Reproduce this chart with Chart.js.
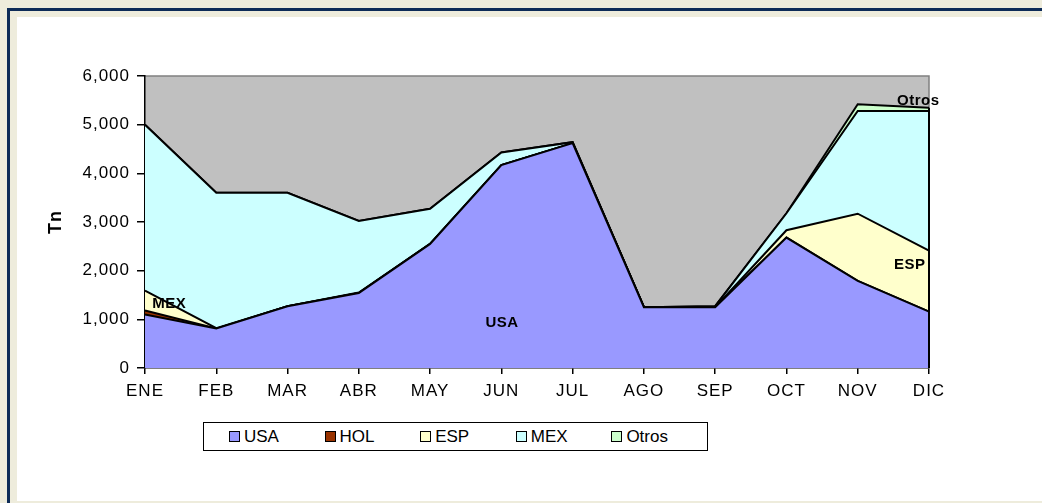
<!DOCTYPE html>
<html>
<head>
<meta charset="utf-8">
<script src="https://cdn.jsdelivr.net/npm/chart.js@4.4.1/dist/chart.umd.min.js"></script>
<style>
  body { margin: 0; background: #eeecdc; width: 1042px; height: 503px; overflow: hidden; position: relative; font-family: "Liberation Sans", Arial, sans-serif; }
  #frame { position: absolute; left: 7px; top: 8px; width: 1035px; height: 495px; border-top: 3px solid #0d2b57; border-left: 3px solid #0d2b57; box-sizing: border-box; }
  #paper { position: absolute; left: 17px; top: 17px; width: 1025px; height: 484px; background: #fff; }
  #chartCanvas { position: absolute; left: 0; top: 0; }
  #legend { position: absolute; left: 203px; top: 422px; width: 505px; height: 29px; border: 1px solid #000; box-sizing: border-box; background: #fff; padding-left: 25px; display: flex; align-items: center; }
  .item { width: 100px; display: flex; align-items: center; font-size: 17px; color: #000; }
  .box { width: 9px; height: 9px; border: 1px solid #000; margin-right: 4px; }
</style>
</head>
<body>
<div id="frame"></div>
<div id="paper"></div>
<canvas id="chartCanvas" width="1042" height="503"></canvas>
<div id="legend"></div>
<script>
var months = ['ENE', 'FEB', 'MAR', 'ABR', 'MAY', 'JUN', 'JUL', 'AGO', 'SEP', 'OCT', 'NOV', 'DIC'];
var usa   = [1100, 810, 1270, 1540, 2550, 4170, 4620, 1250, 1250, 2680, 1790, 1160];
var hol   = [80, 0, 0, 0, 0, 0, 0, 0, 0, 0, 0, 0];
var esp   = [410, 10, 0, 10, 0, 0, 0, 0, 0, 150, 1380, 1250];
var mex   = [3410, 2780, 2330, 1470, 720, 260, 20, 0, 20, 350, 2110, 2870];
var otros = [0, 0, 0, 0, 0, 0, 0, 0, 0, 0, 140, 70];
var yTicks = [0, 1000, 2000, 3000, 4000, 5000, 6000];

var names = ['USA', 'HOL', 'ESP', 'MEX', 'Otros'];
var colors = ['#9999ff', '#993300', '#ffffcc', '#ccffff', '#ccffcc'];

// text labels sitting in the areas: [text, month index, value]
var areaLabels = [
    ['MEX', 0.34, 1320],
    ['USA', 5.01, 930],
    ['ESP', 10.73, 2120],
    ['Otros', 10.85, 5490]
];

var series = [usa, hol, esp, mex, otros];
var fontFamily = '"Liberation Sans", Arial, sans-serif';

var plotBackground = {
    id: 'plotBackground',
    beforeDraw: function(chart) {
        var ctx = chart.ctx, a = chart.chartArea;
        ctx.letterSpacing = '1px';
        ctx.save();
        ctx.fillStyle = '#c0c0c0';
        ctx.fillRect(a.left, a.top, a.right - a.left, a.bottom - a.top);
        ctx.strokeStyle = '#808080';
        ctx.lineWidth = 1.5;
        ctx.beginPath();
        ctx.moveTo(a.left, a.top);
        ctx.lineTo(a.right, a.top);
        ctx.lineTo(a.right, a.bottom);
        ctx.stroke();
        ctx.restore();
    },
    afterDatasetsDraw: function(chart) {
        var ctx = chart.ctx, x = chart.scales.x, y = chart.scales.y;
        ctx.save();
        // right edge of the stack
        var last = months.length - 1;
        var top = 0;
        series.forEach(function(s) { top += s[last]; });
        ctx.strokeStyle = '#000';
        ctx.lineWidth = 2;
        ctx.beginPath();
        ctx.moveTo(x.getPixelForValue(last), y.getPixelForValue(top));
        ctx.lineTo(x.getPixelForValue(last), y.getPixelForValue(0));
        ctx.stroke();
        ctx.letterSpacing = '0.5px';
        ctx.font = 'bold 15px ' + fontFamily;
        ctx.fillStyle = '#000';
        ctx.textAlign = 'center';
        ctx.textBaseline = 'middle';
        areaLabels.forEach(function(l) {
            ctx.fillText(l[0], x.getPixelForValue(l[1]), y.getPixelForValue(l[2]));
        });
        ctx.restore();
    }
};

var datasets = names.map(function(n, i) {
    return {
        label: n,
        data: series[i],
        backgroundColor: colors[i],
        borderColor: '#000',
        borderWidth: 2,
        fill: i === 0 ? 'origin' : '-1',
        pointRadius: 0,
        tension: 0
    };
});

var ctx = document.getElementById('chartCanvas').getContext('2d');
var chart = new Chart(ctx, {
    type: 'line',
    data: { labels: months, datasets: datasets },
    plugins: [plotBackground],
    options: {
        responsive: false,
        animation: false,
        devicePixelRatio: 1,
        layout: { padding: { left: 45, top: 76, right: 113, bottom: 105 } },
        plugins: { legend: { display: false }, tooltip: { enabled: false } },
        scales: {
            x: {
                z: 1,
                offset: false,
                grid: { drawOnChartArea: false, tickLength: 6, color: '#000', lineWidth: 1.5 },
                border: { color: '#000', width: 1.5 },
                ticks: { color: '#000', font: { family: fontFamily, size: 17 }, padding: 7, maxRotation: 0 },
                afterFit: function(scale) { scale.height = 30; }
            },
            y: {
                z: 1,
                stacked: true,
                min: 0,
                max: 6000,
                afterBuildTicks: function(scale) { scale.ticks = yTicks.map(function(v) { return { value: v }; }); },
                grid: { drawOnChartArea: false, tickLength: 8, color: '#000', lineWidth: 1.5 },
                border: { color: '#000', width: 1.5 },
                ticks: {
                    color: '#000',
                    font: { family: fontFamily, size: 17 },
                    padding: 7,
                    callback: function(v) { return v.toLocaleString('en-US'); }
                },
                title: { display: true, text: 'Tn', color: '#000', font: { family: fontFamily, size: 18, weight: 'bold' }, padding: { top: 0, bottom: 0 } },
                afterFit: function(scale) { scale.width = 100; }
            }
        }
    }
});

var legend = document.getElementById('legend');
names.forEach(function(n, i) {
    var item = document.createElement('div');
    item.className = 'item';
    var box = document.createElement('span');
    box.className = 'box';
    box.style.background = colors[i];
    item.appendChild(box);
    item.appendChild(document.createTextNode(n));
    legend.appendChild(item);
});
</script>
</body>
</html>
